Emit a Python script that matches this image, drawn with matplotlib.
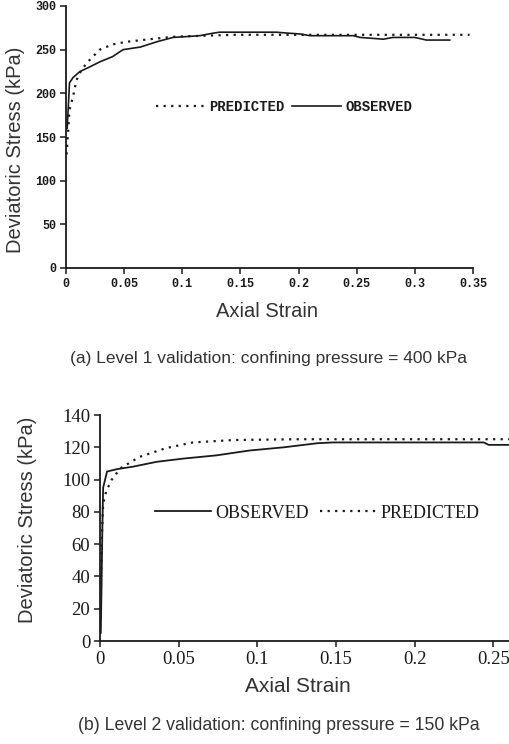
import numpy as np
import matplotlib
matplotlib.use("Agg")
from matplotlib import pyplot as plt

# (a) level 1, confining pressure 400 kPa
obs1_strain = [0.001, 0.002, 0.003, 0.006, 0.012, 0.02, 0.029, 0.04, 0.049, 0.064,
               0.078, 0.092, 0.104, 0.115, 0.127, 0.132, 0.15, 0.181, 0.19, 0.201,
               0.21, 0.247, 0.253, 0.273, 0.281, 0.30, 0.31, 0.33]
obs1_stress = [160, 185, 212, 218, 225, 230, 236, 242, 250, 253,
               259, 264, 265, 266, 269, 270, 270, 270, 269, 268,
               266, 266, 264, 262, 264, 264, 261, 261]
pred1_strain = [0.0005, 0.002, 0.003, 0.006, 0.009, 0.013, 0.018, 0.029, 0.04,
                0.052, 0.072, 0.095, 0.12, 0.144, 0.2, 0.3, 0.347]
pred1_stress = [130, 160, 181, 196, 215, 226, 235, 250, 256,
                259, 262, 265, 266, 267, 267, 267, 267]

# (b) level 2, confining pressure 150 kPa
obs2_strain = [0.0005, 0.001, 0.0015, 0.002, 0.0045, 0.011, 0.021, 0.036, 0.053,
               0.074, 0.095, 0.117, 0.138, 0.148, 0.2, 0.244, 0.247, 0.26]
obs2_stress = [5, 35, 70, 95, 105, 106.5, 108, 111, 113,
               115, 118, 120, 122.5, 123, 123, 123, 121.5, 121.5]
pred2_strain = [0.0005, 0.001, 0.002, 0.004, 0.0075, 0.013, 0.025, 0.042, 0.059,
                0.085, 0.127, 0.2, 0.26]
pred2_stress = [35, 60, 85, 93, 100, 107, 114, 119.5, 123,
                124.5, 125, 125, 125]

xticks1 = [0, 0.05, 0.1, 0.15, 0.2, 0.25, 0.3, 0.35]
xticklabels1 = ["0", "0.05", "0.1", "0.15", "0.2", "0.25", "0.3", "0.35"]
yticks1 = [0, 50, 100, 150, 200, 250, 300]
xticks2 = [0, 0.05, 0.1, 0.15, 0.2, 0.25]
xticklabels2 = ["0", "0.05", "0.1", "0.15", "0.2", "0.25"]
yticks2 = [0, 20, 40, 60, 80, 100, 120, 140]

W, H = 509, 744
fig = plt.figure(figsize=(W / 100, H / 100), dpi=100)

ink = "#1a1a1a"
lab = "#333333"
dots = (0, (1, 2.4))


def px_axes(x0, x1, y0, y1):
    # pixel box (left, right, top, bottom) -> figure fraction
    return fig.add_axes([x0 / W, 1 - y1 / H, (x1 - x0) / W, (y1 - y0) / H])


def style(ax, font, size, weight):
    for s in ("top", "right"):
        ax.spines[s].set_visible(False)
    for s in ("left", "bottom"):
        ax.spines[s].set_linewidth(1.3)
        ax.spines[s].set_color(ink)
    ax.tick_params(direction="out", length=4, width=1.1, color=ink,
                   labelcolor=ink, pad=3)
    for t in ax.get_xticklabels() + ax.get_yticklabels():
        t.set_fontfamily(font)
        t.set_fontsize(size)
        t.set_fontweight(weight)


# ---- top panel ----
ax1 = px_axes(66, 473, 6, 268)
ax1.plot(pred1_strain, pred1_stress, color=ink, lw=1.6, ls=dots, label="PREDICTED")
ax1.plot(obs1_strain, obs1_stress, color=ink, lw=1.2, label="OBSERVED")
ax1.set_xlim(0, 0.35)
ax1.set_ylim(0, 300)
ax1.set_xticks(xticks1, xticklabels1)
ax1.set_yticks(yticks1)
style(ax1, "Liberation Mono", 8.5, "bold")
ax1.set_xlabel("Axial Strain", fontsize=14.5, color=lab, family="Liberation Sans")
ax1.set_ylabel("Deviatoric Stress (kPa)", fontsize=14.5, color=lab, family="Liberation Sans")
ax1.xaxis.set_label_coords(0.494, -0.13)
ax1.yaxis.set_label_coords(-0.10, 0.45)
ax1.legend(ncol=2, frameon=False, loc="center left",
           bbox_to_anchor=(156 / W, 1 - 107 / H), bbox_transform=fig.transFigure,
           prop={"family": "Liberation Mono", "weight": "bold", "size": 10},
           handlelength=3.5, handletextpad=0.3, columnspacing=0.6,
           borderpad=0, borderaxespad=0, labelcolor=ink)

fig.text(268 / W, 1 - 359 / H, "(a) Level 1 validation: confining pressure = 400 kPa",
         ha="center", va="center", fontsize=12.5, color=lab, family="Liberation Sans")

# ---- bottom panel ----
ax2 = px_axes(100, 509, 415, 641)
ax2.plot(obs2_strain, obs2_stress, color=ink, lw=1.3, label="OBSERVED")
ax2.plot(pred2_strain, pred2_stress, color=ink, lw=1.6, ls=dots, label="PREDICTED")
ax2.set_xlim(0, 0.26)
ax2.set_ylim(0, 140)
ax2.set_xticks(xticks2, xticklabels2)
ax2.set_yticks(yticks2)
style(ax2, "Liberation Serif", 13.5, "normal")
ax2.set_xlabel("Axial Strain", fontsize=15, color=lab, family="Liberation Sans")
ax2.set_ylabel("Deviatoric Stress (kPa)", fontsize=14.5, color=lab, family="Liberation Sans")
ax2.xaxis.set_label_coords(0.484, -0.159)
ax2.yaxis.set_label_coords(-0.154, 0.535)
ax2.legend(ncol=2, frameon=False, loc="center left",
           bbox_to_anchor=(155 / W, 1 - 513 / H), bbox_transform=fig.transFigure,
           prop={"family": "Liberation Serif", "size": 13},
           handlelength=3.1, handletextpad=0.25, columnspacing=0.6,
           borderpad=0, borderaxespad=0, labelcolor=ink)

fig.text(279 / W, 1 - 725 / H, "(b) Level 2 validation: confining pressure = 150 kPa",
         ha="center", va="center", fontsize=12.7, color=lab, family="Liberation Sans")

fig.savefig("out.png", dpi=100)
